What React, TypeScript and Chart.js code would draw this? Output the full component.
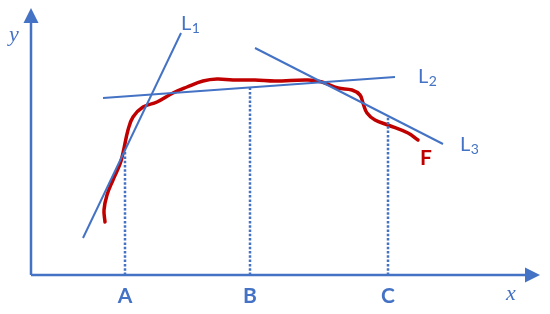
import React, { useEffect, useRef } from "react";
import { Chart, registerables } from "chart.js";

Chart.register(...registerables);

// Diagram data space: origin at the axis corner, x to the right, y upward.
const xAxisEnd = 509;
const yAxisEnd = 267;

// Curve F
const fCurveX = [74, 73, 76, 82, 89, 92, 97, 102, 112, 126, 142, 156, 172, 186, 202, 224, 244, 277, 291, 307, 321, 329, 332, 336, 344, 357, 377, 387];
const fCurveY = [53, 65, 80, 95, 111, 122, 145, 158, 168, 173, 182, 188, 194, 196, 195, 195, 194, 195, 193, 187, 185, 180, 172, 162, 155, 150, 142, 135];

// Tangent lines (two end points each)
const l1X = [52, 150];
const l1Y = [37, 242];
const l2X = [72, 364];
const l2Y = [177, 198];
const l3X = [224, 412];
const l3Y = [227, 131];

// Marked points on the x axis
const markLabels = ["A", "B", "C"];
const markX = [94, 219, 357];
const markTopY = [125, 187, 158];

// Tangent line labels
const tangentSubs = ["1", "2", "3"];
const tangentLabelX = [150, 387, 429];
const tangentLabelY = [245, 192, 124];

const curveLabel = "F";
const curveLabelX = 389;
const curveLabelY = 110;

const axisNameX = "x";
const axisNameY = "y";

const BLUE = "#4472C4";
const RED = "#C00000";

const pts = (xs: number[], ys: number[]) => xs.map((x, i) => ({ x, y: ys[i] }));

const diagramPlugin = {
  id: "diagramLabels",
  afterDatasetsDraw(chart: any) {
    const { ctx } = chart;
    const sx = chart.scales.x;
    const sy = chart.scales.y;
    const X = (v: number) => sx.getPixelForValue(v);
    const Y = (v: number) => sy.getPixelForValue(v);
    ctx.save();

    // arrowheads
    const head = (tx: number, ty: number, dx: number, dy: number) => {
      const len = 15;
      const hw = 7.5;
      const bx = tx - dx * len;
      const by = ty - dy * len;
      ctx.beginPath();
      ctx.moveTo(tx, ty);
      ctx.lineTo(bx - dy * hw, by + dx * hw);
      ctx.lineTo(bx + dy * hw, by - dx * hw);
      ctx.closePath();
      ctx.fillStyle = BLUE;
      ctx.fill();
    };
    head(X(xAxisEnd), Y(0), 1, 0);
    head(X(0), Y(yAxisEnd), 0, -1);

    ctx.textBaseline = "alphabetic";

    // A B C
    ctx.fillStyle = BLUE;
    ctx.textAlign = "center";
    ctx.font = "bold 21px Lato, 'Open Sans', sans-serif";
    markLabels.forEach((t, i) => {
      ctx.fillText(t, X(markX[i]), Y(-28));
    });

    // L1 L2 L3
    ctx.textAlign = "left";
    tangentSubs.forEach((s, i) => {
      const px = X(tangentLabelX[i]);
      const py = Y(tangentLabelY[i]);
      ctx.font = "20px Lato, 'Open Sans', sans-serif";
      ctx.fillText("L", px, py);
      const w = ctx.measureText("L").width;
      ctx.font = "14px Lato, 'Open Sans', sans-serif";
      ctx.fillText(s, px + w + 0.5, py + 3);
    });

    // F
    ctx.fillStyle = RED;
    ctx.font = "bold 21px Lato, 'Open Sans', sans-serif";
    ctx.fillText(curveLabel, X(curveLabelX), Y(curveLabelY));

    // axis names
    ctx.fillStyle = BLUE;
    ctx.textAlign = "center";
    ctx.font = "italic 22px 'Liberation Serif', 'DejaVu Serif', serif";
    ctx.fillText(axisNameY, X(-17), Y(234));
    ctx.fillText(axisNameX, X(480), Y(-25));

    ctx.restore();
  },
};

export default function App() {
  const ref = useRef<HTMLCanvasElement | null>(null);

  useEffect(() => {
    if (!ref.current) return;
    const lineDs = (data: any[], color: string, width: number, extra: any = {}) => ({
      data,
      showLine: true,
      borderColor: color,
      backgroundColor: color,
      borderWidth: width,
      pointRadius: 0,
      pointHoverRadius: 0,
      tension: 0,
      clip: false,
      ...extra,
    });

    const datasets: any[] = [
      lineDs(pts([0, xAxisEnd - 10], [0, 0]), BLUE, 2.5),
      lineDs(pts([0, 0], [0, yAxisEnd - 10]), BLUE, 2.5),
      lineDs(pts(l1X, l1Y), BLUE, 2),
      lineDs(pts(l2X, l2Y), BLUE, 2),
      lineDs(pts(l3X, l3Y), BLUE, 2),
      ...markX.map((mx, i) =>
        lineDs(pts([mx, mx], [0, markTopY[i]]), BLUE, 2.5, { borderDash: [2.5, 1.8] })
      ),
      lineDs(pts(fCurveX, fCurveY), RED, 3.5, {
        tension: 0.4,
        borderCapStyle: "round",
        borderJoinStyle: "round",
        order: 10,
      }),
    ];

    const chart = new Chart(ref.current, {
      type: "scatter",
      data: { datasets },
      options: {
        animation: false,
        responsive: false,
        maintainAspectRatio: false,
        layout: { padding: 0 },
        plugins: { legend: { display: false }, tooltip: { enabled: false } },
        events: [],
        scales: {
          x: { type: "linear", min: -31, max: 519, display: false },
          y: { type: "linear", min: -39, max: 275, display: false },
        },
      },
      plugins: [diagramPlugin],
    });
    return () => chart.destroy();
  }, []);

  return (
    <div style={{ position: "absolute", left: 0, top: 0, width: 550, height: 314, background: "#fff" }}>
      <canvas ref={ref} width={550} height={314} style={{ width: 550, height: 314, display: "block" }} />
    </div>
  );
}
